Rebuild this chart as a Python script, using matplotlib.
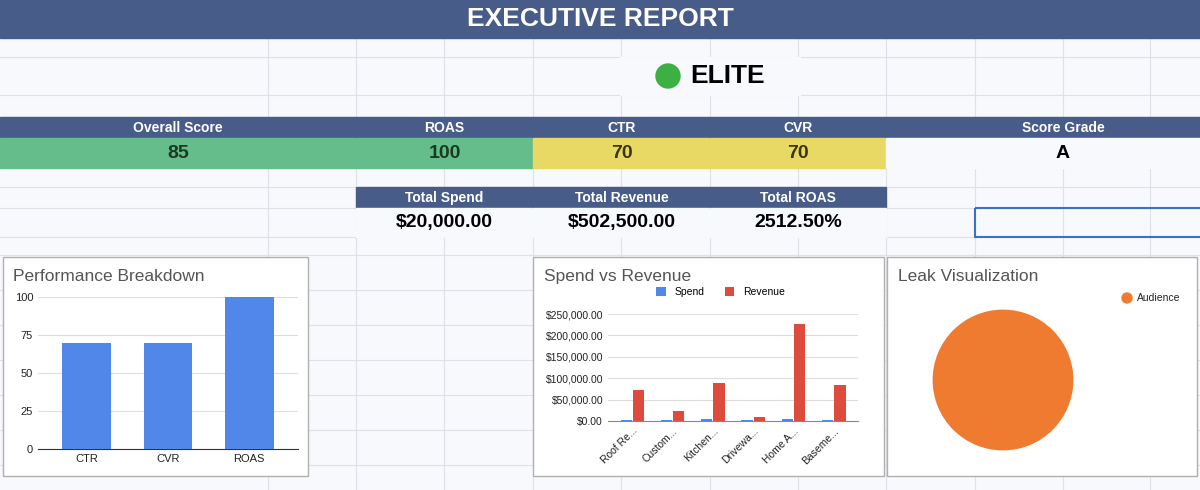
import matplotlib.pyplot as plt
from matplotlib.patches import Rectangle, Circle

plt.rcParams['font.family'] = ['Liberation Sans', 'DejaVu Sans']

# data
score_labels = ['Overall Score', 'ROAS', 'CTR', 'CVR', 'Score Grade']
score_values = ['85', '100', '70', '70', 'A']
total_labels = ['Total Spend', 'Total Revenue', 'Total ROAS']
total_values = ['$20,000.00', '$502,500.00', '2512.50%']
perf_cats = ['CTR', 'CVR', 'ROAS']
perf_vals = [70, 70, 100]
campaigns = ['Roof Re...', 'Custom...', 'Kitchen...', 'Drivewa...', 'Home A...', 'Baseme...']
spend = [3000, 3000, 4500, 3000, 4500, 2000]
revenue = [72000, 23000, 88000, 8500, 227000, 84000]
leak_labels = ['Audience']
leak_vals = [1]

W, H = 1200, 490
NAVY = '#485c8a'
GREEN = '#64bd8a'
YELLOW = '#e8d964'
GRID = '#dfe1e8'
BG = '#f8f9fd'

fig = plt.figure(figsize=(12, 4.9), dpi=100)
ax = fig.add_axes([0, 0, 1, 1])
ax.set_xlim(0, W)
ax.set_ylim(H, 0)
ax.axis('off')
ax.add_patch(Rectangle((0, 0), W, H, color=BG, zorder=0))

cols = [0, 268, 356, 444, 533, 621, 710, 798, 886, 975, 1063, 1150, 1200]
rows = [38, 57, 95, 117, 138, 168, 187, 208, 237, 255, 290, 325, 360, 395, 430, 465]
for x in cols[1:-1]:
    ax.plot([x, x], [38, H], color=GRID, lw=0.8, zorder=1)
for y in rows:
    ax.plot([0, W], [y, y], color=GRID, lw=0.8, zorder=1)

def cell(x0, x1, y0, y1, color, text='', tc='white', size=11, weight='bold'):
    ax.add_patch(Rectangle((x0, y0), x1 - x0, y1 - y0, color=color, zorder=2))
    if text:
        ax.text((x0 + x1) / 2, (y0 + y1) / 2, text, ha='center', va='center',
                color=tc, fontsize=size, fontweight=weight, zorder=3)

cell(0, W, 0, 38, NAVY, 'EXECUTIVE REPORT', size=19)
cell(620, 800, 57, 95, BG)
ax.add_patch(Circle((668, 76), 12, color='#3cb043', zorder=3))
ax.text(690, 76, 'ELITE', ha='left', va='center', fontsize=19, fontweight='bold', zorder=3)

spans = [(0, 356), (356, 533), (533, 710), (710, 886), (886, 1240)]
fills = [GREEN, GREEN, YELLOW, YELLOW, BG]
for (x0, x1), lab, val, f in zip(spans, score_labels, score_values, fills):
    cell(x0, x1, 117, 138, NAVY, lab, size=10)
    cell(x0, x1, 138, 168, f, val, tc='#1a3a22' if f == GREEN else ('#3a3410' if f == YELLOW else 'black'), size=14)

tspans = [(356, 533), (533, 710), (710, 886)]
for (x0, x1), lab, val in zip(tspans, total_labels, total_values):
    cell(x0, x1, 187, 208, NAVY, lab, size=10)
    cell(x0, x1, 208, 237, BG, val, tc='black', size=14)
ax.add_patch(Rectangle((975, 208), 240, 29, fill=False, ec='#3d6fc4', lw=1.5, zorder=3))

# chart boxes
for x0, x1 in [(3, 308), (533, 884), (887, 1197)]:
    ax.add_patch(Rectangle((x0, 257), x1 - x0, 219, fc='white', ec='#b0b0b0', lw=1, zorder=4))

def inset(x0, y0, x1, y1):
    a = fig.add_axes([x0 / W, 1 - y1 / H, (x1 - x0) / W, (y1 - y0) / H])
    a.set_facecolor('none')
    a.set_zorder(5)
    return a

ax.text(13, 276, 'Performance Breakdown', fontsize=12.5, color='#555555', va='center', zorder=6)
a1 = inset(38, 297, 298, 449)
a1.bar(perf_cats, perf_vals, width=0.6, color='#5087e8', zorder=3)
a1.set_ylim(0, 100)
a1.set_yticks([0, 25, 50, 75, 100])
a1.set_xlim(-0.6, 2.6)
a1.grid(axis='y', color='#dddddd', lw=0.8, zorder=0)
for s in a1.spines.values():
    s.set_visible(False)
a1.spines['bottom'].set_visible(True)
a1.spines['bottom'].set_color('#333333')
a1.tick_params(length=0, labelsize=8, colors='#222222')

ax.text(544, 276, 'Spend vs Revenue', fontsize=12.5, color='#555555', va='center', zorder=6)
a2 = inset(608, 314, 858, 421)
xs = range(len(campaigns))
a2.bar([x - 0.15 for x in xs], spend, width=0.28, color='#5087e8', label='Spend', zorder=3)
a2.bar([x + 0.15 for x in xs], revenue, width=0.28, color='#dd4b3c', label='Revenue', zorder=3)
a2.set_ylim(0, 250000)
a2.set_yticks([0, 50000, 100000, 150000, 200000, 250000])
a2.set_yticklabels(['$%s' % format(v, ',.2f') for v in [0, 50000, 100000, 150000, 200000, 250000]])
a2.set_xticks(list(xs))
a2.set_xticklabels(campaigns, rotation=45, ha='right', rotation_mode='anchor')
a2.set_xlim(-0.6, 5.6)
a2.grid(axis='y', color='#dddddd', lw=0.8, zorder=0)
for s in a2.spines.values():
    s.set_visible(False)
a2.spines['bottom'].set_visible(True)
a2.spines['bottom'].set_color('#888888')
a2.tick_params(length=0, labelsize=7.5, colors='#222222')
a2.legend(loc='lower center', bbox_to_anchor=(0.45, 1.07), ncol=2, frameon=False,
          fontsize=7.5, handlelength=0.9, handleheight=0.9, columnspacing=2)

ax.text(898, 276, 'Leak Visualization', fontsize=12.5, color='#555555', va='center', zorder=6)
a3 = inset(915, 292, 1091, 468)
a3.pie(leak_vals, colors=['#ee7b30'], radius=1.0, startangle=90)
a3.set_aspect('equal')
ax.add_patch(Circle((1127, 298), 5, color='#ee7b30', zorder=6))
ax.text(1137, 298, leak_labels[0], fontsize=7.5, va='center', color='#222222', zorder=6)

fig.savefig('out.png', dpi=100)
